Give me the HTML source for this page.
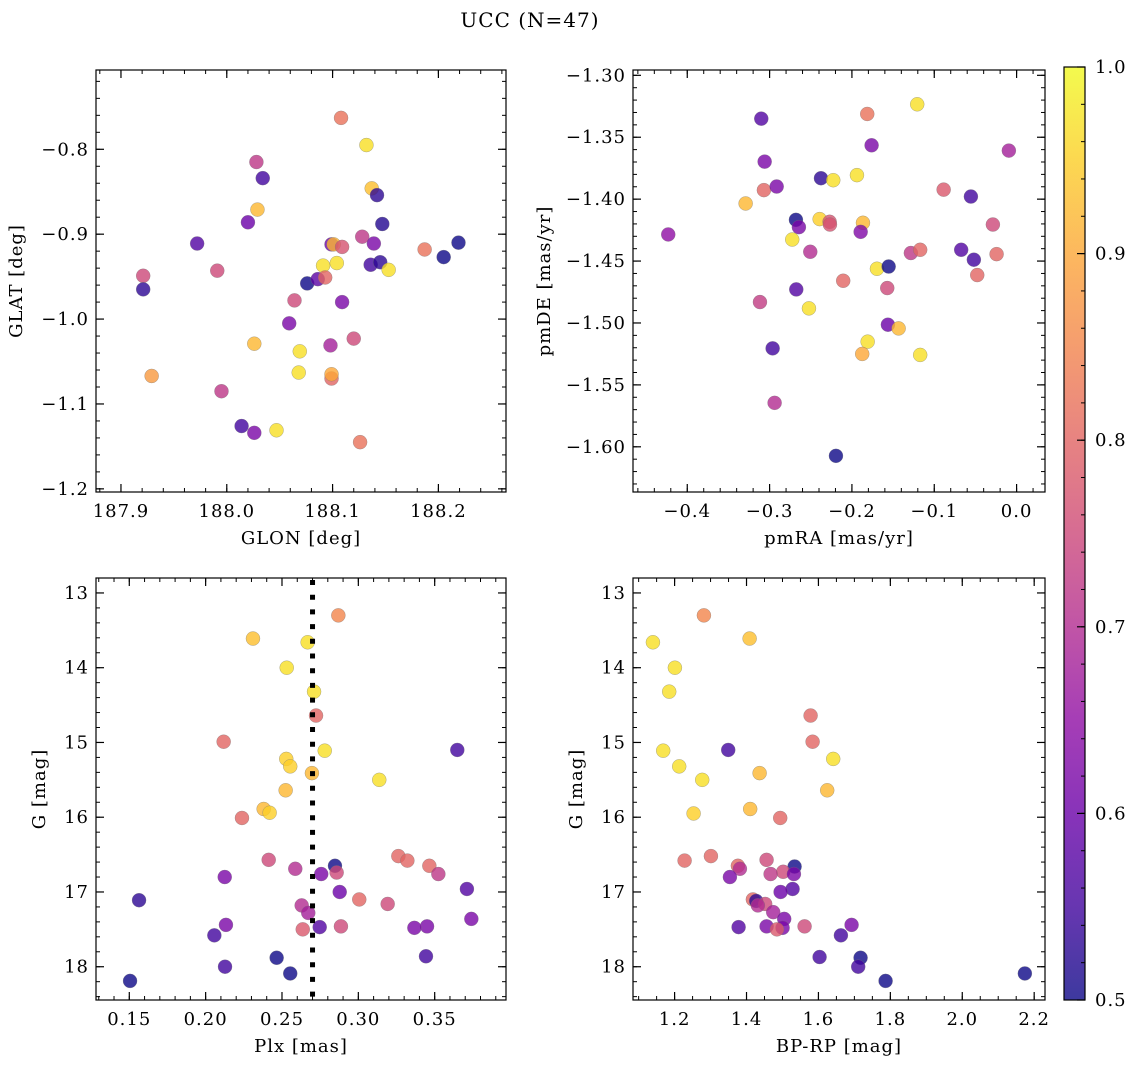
<!DOCTYPE html>
<html><head><meta charset="utf-8"><style>
body{margin:0;background:#fff;}
svg{display:block;font-family:"DejaVu Serif","Liberation Serif",serif;}
svg text{letter-spacing:1px;}
</style></head><body>
<svg id="fig" width="1136" height="1067" viewBox="0 0 1136 1067" xmlns="http://www.w3.org/2000/svg">
<text x="530" y="27" text-anchor="middle" font-size="20">UCC (N=47)</text>
</svg>
<script>
// ---- data: [x, y, colour value] ----
const glonGlat = [[188.108,-0.763,.82],[188.132,-0.795,.97],[188.028,-0.815,.72],[188.034,-0.834,.55],[188.029,-0.871,.92],[188.137,-0.846,.93],[188.142,-0.854,.53],[188.020,-0.886,.6],[188.147,-0.888,.52],[187.972,-0.911,.57],[188.128,-0.903,.72],[188.099,-0.912,.6],[188.101,-0.912,.92],[188.109,-0.915,.77],[188.139,-0.911,.62],[188.187,-0.918,.82],[188.219,-0.910,.5],[188.205,-0.927,.5],[187.921,-0.949,.75],[187.921,-0.965,.53],[187.991,-0.943,.75],[188.091,-0.937,.97],[188.104,-0.934,.97],[188.136,-0.936,.55],[188.145,-0.933,.53],[188.153,-0.942,.97],[188.076,-0.958,.5],[188.086,-0.953,.58],[188.093,-0.951,.8],[188.064,-0.978,.75],[188.109,-0.980,.62],[188.059,-1.005,.62],[188.120,-1.023,.75],[188.026,-1.029,.92],[188.069,-1.038,.97],[188.098,-1.031,.68],[187.929,-1.067,.88],[188.068,-1.063,.97],[188.099,-1.070,.8],[188.099,-1.065,.9],[187.995,-1.085,.72],[188.014,-1.126,.55],[188.026,-1.134,.62],[188.047,-1.131,.97],[188.126,-1.145,.82]];
const pmraPmde = [[-0.1207,-1.3234,.97],[-0.1814,-1.3312,.82],[-0.3101,-1.3350,.57],[-0.1761,-1.3565,.62],[-0.0094,-1.3608,.68],[-0.3060,-1.3697,.62],[-0.2376,-1.3831,.53],[-0.2227,-1.3847,.97],[-0.1939,-1.3806,.97],[-0.3069,-1.3927,.8],[-0.2914,-1.3898,.62],[-0.0886,-1.3923,.78],[-0.0555,-1.3979,.55],[-0.3291,-1.4035,.92],[-0.2680,-1.4167,.5],[-0.2392,-1.4161,.95],[-0.2271,-1.4183,.77],[-0.2267,-1.4205,.77],[-0.2644,-1.4226,.62],[-0.1866,-1.4191,.92],[-0.1894,-1.4264,.63],[-0.0288,-1.4205,.75],[-0.4231,-1.4285,.65],[-0.2725,-1.4326,.97],[-0.2506,-1.4425,.7],[-0.1284,-1.4435,.72],[-0.1171,-1.4409,.8],[-0.0673,-1.4409,.57],[-0.0519,-1.4489,.55],[-0.0243,-1.4444,.8],[-0.1696,-1.4562,.97],[-0.1554,-1.4544,.5],[-0.0478,-1.4613,.8],[-0.2106,-1.4659,.8],[-0.2676,-1.4729,.57],[-0.1571,-1.4718,.75],[-0.3117,-1.4831,.73],[-0.2522,-1.4882,.97],[-0.1563,-1.5014,.6],[-0.1433,-1.5044,.92],[-0.1809,-1.5151,.97],[-0.1875,-1.5250,.9],[-0.1171,-1.5258,.97],[-0.2963,-1.5205,.55],[-0.2939,-1.5645,.7],[-0.2194,-1.6073,.5]];
const plxG = [[0.2869,13.30,.85],[0.2310,13.61,.93],[0.2668,13.66,.97],[0.2531,14.00,.97],[0.2710,14.32,.97],[0.2723,14.64,.8],[0.2118,14.99,.8],[0.2780,15.11,.97],[0.3648,15.10,.55],[0.2528,15.22,.95],[0.2554,15.32,.95],[0.2696,15.41,.92],[0.3137,15.50,.97],[0.2524,15.64,.92],[0.2380,15.89,.92],[0.2419,15.94,.95],[0.2238,16.01,.8],[0.3262,16.52,.8],[0.3321,16.58,.8],[0.2413,16.57,.75],[0.3465,16.65,.8],[0.2847,16.65,.5],[0.2587,16.69,.7],[0.2858,16.74,.75],[0.2757,16.76,.62],[0.3524,16.76,.72],[0.2125,16.80,.62],[0.3711,16.96,.57],[0.2878,17.00,.6],[0.3006,17.10,.8],[0.1564,17.11,.53],[0.3192,17.16,.75],[0.2629,17.18,.7],[0.2672,17.28,.68],[0.3740,17.36,.62],[0.2133,17.44,.62],[0.3450,17.46,.62],[0.3367,17.48,.62],[0.2886,17.46,.75],[0.2747,17.47,.57],[0.2636,17.50,.78],[0.2057,17.58,.55],[0.2465,17.88,.5],[0.3443,17.86,.55],[0.2127,18.00,.55],[0.2554,18.09,.5],[0.1505,18.19,.5]];
const bprpG = [[1.2815,13.30,.85],[1.1397,13.66,.97],[1.4086,13.61,.93],[1.2008,14.00,.97],[1.1850,14.32,.97],[1.5782,14.64,.8],[1.5838,14.99,.8],[1.1683,15.11,.97],[1.3491,15.10,.55],[1.6411,15.22,.97],[1.2128,15.32,.97],[1.4364,15.41,.92],[1.2768,15.50,.97],[1.6244,15.64,.92],[1.2528,15.95,.95],[1.4102,15.89,.92],[1.4937,16.01,.8],[1.3010,16.52,.8],[1.2278,16.58,.8],[1.4558,16.57,.75],[1.5337,16.66,.5],[1.3760,16.65,.8],[1.3816,16.69,.7],[1.5020,16.73,.75],[1.5318,16.76,.62],[1.4670,16.76,.72],[1.3538,16.80,.62],[1.5281,16.96,.57],[1.4948,17.00,.6],[1.4177,17.10,.8],[1.4269,17.12,.53],[1.4519,17.16,.75],[1.4316,17.18,.7],[1.4742,17.27,.68],[1.5048,17.36,.62],[1.3780,17.47,.57],[1.4558,17.46,.62],[1.5003,17.48,.62],[1.5615,17.46,.75],[1.4845,17.50,.78],[1.6922,17.44,.62],[1.6625,17.58,.55],[1.6032,17.87,.55],[1.7172,17.88,.5],[1.7106,18.00,.55],[1.7868,18.19,.5],[2.1741,18.09,.5]];
const plxCut = [0.27];
const tlXTicks = [187.9,188.0,188.1,188.2];
const tlYTicks = [-0.8,-0.9,-1.0,-1.1,-1.2];
const trXTicks = [-0.4,-0.3,-0.2,-0.1,0.0];
const trYTicks = [-1.30,-1.35,-1.40,-1.45,-1.50,-1.55,-1.60];
const blXTicks = [0.15,0.20,0.25,0.30,0.35];
const gTicks = [13,14,15,16,17,18];
const brXTicks = [1.2,1.4,1.6,1.8,2.0,2.2];
const cbTicks = [0.5,0.6,0.7,0.8,0.9,1.0];

const NS="http://www.w3.org/2000/svg";
const svg=document.getElementById('fig');
function mk(tag,attrs,parent){const e=document.createElementNS(NS,tag);for(const k in attrs)e.setAttribute(k,attrs[k]);(parent||svg).appendChild(e);return e;}
const stops=['#0d0887','#41049d','#6a00a8','#8f0da4','#b12a90','#cc4778','#e16462','#f2844b','#fca636','#fcce25','#f0f921'];
function hex(h){return [1,3,5].map(i=>parseInt(h.substr(i,2),16));}
function plasma(v){let t=(v-0.5)/0.5;t=Math.max(0,Math.min(1,t));const f=t*10,i=Math.min(9,Math.floor(f)),r=f-i;const a=hex(stops[i]),b=hex(stops[i+1]);return 'rgb('+a.map((c,k)=>Math.round(c+(b[k]-c)*r)).join(',')+')';}
function fmt(v,d){return (v<0?'\u2212':'')+Math.abs(v).toFixed(d);}
const FS=18;

function panel(o){
  const g=mk('g',{});
  
  
  const X=v=>o.x0+(v-o.xmin)/(o.xmax-o.xmin)*(o.x1-o.x0);
  const Y=v=>o.inv? o.y0+(v-o.ymin)/(o.ymax-o.ymin)*(o.y1-o.y0) : o.y1-(v-o.ymin)/(o.ymax-o.ymin)*(o.y1-o.y0);
  const eps=1e-9;
  for(let v=Math.ceil(o.xmin/o.xminor-eps)*o.xminor; v<=o.xmax+eps; v+=o.xminor){const px=X(v);
    mk('line',{x1:px,x2:px,y1:o.y1,y2:o.y1-4,stroke:'#000','stroke-width':1},g);mk('line',{x1:px,x2:px,y1:o.y0,y2:o.y0+4,stroke:'#000','stroke-width':1},g);}
  for(let v=Math.ceil(o.ymin/o.yminor-eps)*o.yminor; v<=o.ymax+eps; v+=o.yminor){const py=Y(v);
    mk('line',{x1:o.x0,x2:o.x0+4,y1:py,y2:py,stroke:'#000','stroke-width':1},g);mk('line',{x1:o.x1,x2:o.x1-4,y1:py,y2:py,stroke:'#000','stroke-width':1},g);}
  o.xt.forEach(v=>{const px=X(v);
    mk('line',{x1:px,x2:px,y1:o.y1,y2:o.y1-8,stroke:'#000','stroke-width':1.2},g);mk('line',{x1:px,x2:px,y1:o.y0,y2:o.y0+8,stroke:'#000','stroke-width':1.2},g);
    const t=mk('text',{x:px,y:o.y1+25,'text-anchor':'middle','font-size':FS},g);t.textContent=fmt(v,o.xd);
    
    });
  o.yt.forEach(v=>{const py=Y(v);
    mk('line',{x1:o.x0,x2:o.x0+8,y1:py,y2:py,stroke:'#000','stroke-width':1.2},g);mk('line',{x1:o.x1,x2:o.x1-8,y1:py,y2:py,stroke:'#000','stroke-width':1.2},g);
    const t=mk('text',{x:o.x0-7,y:py+6,'text-anchor':'end','font-size':FS},g);t.textContent=fmt(v,o.yd);
    
    });
  const xl=mk('text',{x:(o.x0+o.x1)/2,y:o.y1+52,'text-anchor':'middle','font-size':FS},g);xl.textContent=o.xlab;
  
  
  const yl=mk('text',{x:0,y:0,'text-anchor':'middle','font-size':FS,transform:'translate('+o.ylx+','+(o.y0+o.y1)/2+') rotate(-90)'},g);yl.textContent=o.ylab;
  
  
  o.data.forEach(d=>{const c=mk('circle',{cx:X(d[0]),cy:Y(d[1]),r:7,fill:plasma(d[2]),'fill-opacity':0.8,stroke:'#777','stroke-opacity':0.6,'stroke-width':0.5},g);
    
    });
  if(o.vline){o.vline.forEach(v=>{const l=mk('line',{x1:X(v),x2:X(v),y1:o.y0+2,y2:o.y1,stroke:'#000','stroke-width':5,'stroke-dasharray':'5 9.7'},g);
    
    });}
  const fr=mk('rect',{x:o.x0,y:o.y0,width:o.x1-o.x0,height:o.y1-o.y0,fill:'none',stroke:'#000','stroke-width':1.2},g);
  
  
}
panel({name:'glon-glat-panel',x0:96,x1:506,y0:70,y1:492,xmin:187.8764,xmax:188.2639,ymin:-1.2037,ymax:-0.7066,xminor:0.02,yminor:0.02,xt:tlXTicks,yt:tlYTicks,xd:1,yd:1,xlab:'GLON [deg]',ylab:'GLAT [deg]',ylx:22,data:glonGlat});
panel({name:'pmra-pmde-panel',x0:633,x1:1045,y0:70,y1:492,xmin:-0.4659,xmax:0.0345,ymin:-1.6365,ymax:-1.2957,xminor:0.02,yminor:0.01,xt:trXTicks,yt:trYTicks,xd:1,yd:2,xlab:'pmRA [mas/yr]',ylab:'pmDE [mas/yr]',ylx:550,data:pmraPmde});
panel({name:'plx-g-panel',x0:96,x1:506,y0:578,y1:1000,xmin:0.1282,xmax:0.3967,ymin:12.8,ymax:18.445,inv:true,xminor:0.01,yminor:0.2,xt:blXTicks,yt:gTicks,xd:2,yd:0,xlab:'Plx [mas]',ylab:'G [mag]',ylx:45,data:plxG,vline:plxCut});
panel({name:'bprp-g-panel',x0:633,x1:1045,y0:578,y1:1000,xmin:1.0843,xmax:2.2301,ymin:12.8,ymax:18.445,inv:true,xminor:0.05,yminor:0.2,xt:brXTicks,yt:gTicks,xd:1,yd:0,xlab:'BP-RP [mag]',ylab:'G [mag]',ylx:582,data:bprpG});

// colorbar
const cb=mk('g',{});


const cx0=1064,cx1=1085,cy0=67,cy1=1000;
const CY=v=>cy1-(v-0.5)/0.5*(cy1-cy0);
const defs=mk('defs',{});
const grad=mk('linearGradient',{id:'plasmaGrad',x1:0,y1:1,x2:0,y2:0},defs);
for(let i=0;i<=20;i++){const v=0.5+i*0.025;mk('stop',{offset:(i/20),'stop-color':plasma(v)},grad);}
mk('rect',{x:cx0,y:cy0,width:cx1-cx0,height:cy1-cy0,fill:'url(#plasmaGrad)','fill-opacity':0.8},cb);
for(let v=0.5;v<=1.0001;v+=0.02){const y=CY(v);mk('line',{x1:cx1,x2:cx1-4,y1:y,y2:y,stroke:'#000','stroke-width':1},cb);}
cbTicks.forEach(v=>{const y=CY(v);mk('line',{x1:cx1,x2:cx1-8,y1:y,y2:y,stroke:'#000','stroke-width':1.2},cb);
  const t=mk('text',{x:cx1+10,y:y+6,'font-size':FS},cb);t.textContent=v.toFixed(1);
  
  });
mk('rect',{x:cx0,y:cy0,width:cx1-cx0,height:cy1-cy0,fill:'none',stroke:'#000','stroke-width':1.2},cb);
</script>
</body></html>
